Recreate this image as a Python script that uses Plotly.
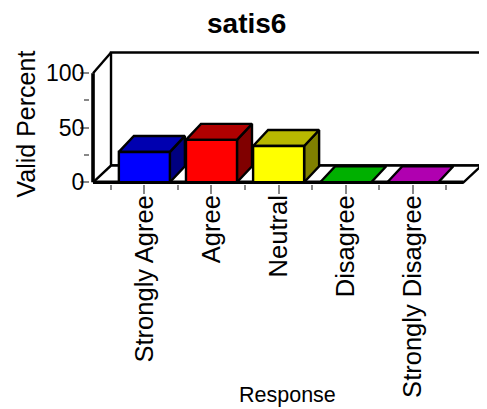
import plotly.graph_objects as go

# ---- data ----
categories = ["Strongly Agree", "Agree", "Neutral", "Disagree", "Strongly Disagree"]
values = [27.8, 38.9, 33.3, 0, 0]
front_colors = ["#0000FF", "#FF0000", "#FFFF00", "#00FF00", "#FF00FF"]
top_colors = ["#0000B0", "#B00000", "#B8B800", "#00B000", "#B000B0"]
side_colors = ["#000080", "#800000", "#808000", "#008000", "#800080"]
y_ticks = [0, 50, 100]
y_minor = [25, 75]

# ---- layout geometry (page has an 8px body margin) ----
OFF = 8
W, H = 487 - OFF, 409 - OFF
ML, MR, MT, MB = 90 - OFF, 3, 50 - OFF, 225
XR = [-0.81, 5.06]
YR = [-1.6, 121.3]
PW, PH = W - ML - MR, H - MT - MB
KX = PW / (XR[1] - XR[0])   # px per category unit
KY = PH / (YR[1] - YR[0])   # px per percent unit

DX, DY = 18 / KX, 16.7 / KY       # floor depth
BDX, BDY = 15 / KX, 16 / KY       # bar depth
HW = 0.38                         # half bar width
PAD = 0.265
X0 = -0.5 - PAD
X1 = len(categories) - 0.5 + PAD - 0.01
WALL_TOP = 119

FONT = "Liberation Sans, Arial, sans-serif"
fig = go.Figure()

def poly(xs, ys, fill, lw=2.4, color="black"):
    fig.add_trace(go.Scatter(
        x=list(xs) + [xs[0]], y=list(ys) + [ys[0]], mode="lines",
        fill="toself" if fill else None, fillcolor=fill,
        line=dict(color=color, width=lw), hoverinfo="skip", showlegend=False))

def line(xs, ys, lw):
    fig.add_trace(go.Scatter(x=xs, y=ys, mode="lines",
                             line=dict(color="black", width=lw),
                             hoverinfo="skip", showlegend=False))

# back wall
poly([X0 + DX, X1 + DX, X1 + DX, X0 + DX], [DY, DY, WALL_TOP, WALL_TOP], "white", 2.4)
# floor
poly([X0, X1, X1 + DX, X0 + DX], [0, 0, DY, DY], "white", 2.4)
# front axis lines
line([X0, X1], [0, 0], 3.6)
line([X0, X0], [0, y_ticks[-1]], 3.6)
line([X0, X0 + DX], [y_ticks[-1], WALL_TOP], 2.4)

# bars
for i, v in enumerate(values):
    c = i
    if v > 0:
        poly([c + HW, c + HW + BDX, c + HW + BDX, c + HW], [0, BDY, v + BDY, v], side_colors[i])
        poly([c - HW, c + HW, c + HW + BDX, c - HW + BDX], [v, v, v + BDY, v + BDY], top_colors[i])
        poly([c - HW, c + HW, c + HW, c - HW], [0, 0, v, v], front_colors[i])
    else:
        poly([c - HW, c + HW, c + HW + BDX, c - HW + BDX], [0, 0, BDY, BDY], top_colors[i])

fig.update_layout(
    width=W, height=H,
    margin=dict(l=ML, r=MR, t=MT, b=MB, pad=0, autoexpand=False),
    paper_bgcolor="white", plot_bgcolor="white",
    font=dict(family=FONT, color="black"),
    xaxis=dict(range=XR, showgrid=False, zeroline=False, showline=False, automargin=False,
               tickmode="array", tickvals=list(range(len(categories))), ticktext=categories,
               tickangle=-90, ticks="outside", ticklen=9, tickwidth=1.5, tickcolor="#888888",
               ticklabelstandoff=-9,
               tickfont=dict(size=25.5, family=FONT),
               minor=dict(tickmode="array", tickvals=[i - 0.5 for i in range(len(categories) + 1)],
                          ticks="outside", ticklen=5, tickwidth=1.5, tickcolor="#888888")),
    yaxis=dict(range=YR, showgrid=False, zeroline=False, showline=False, automargin=False,
               tickmode="array", tickvals=y_ticks, ticks="outside", ticklen=9, tickwidth=1.5,
               ticklabelstandoff=-9,
               tickcolor="#888888", tickfont=dict(size=23, family=FONT),
               minor=dict(tickmode="array", tickvals=y_minor, ticks="outside", ticklen=5,
                          tickwidth=1.5, tickcolor="#888888")),
)

def px2paper(px, py):
    # px, py are page pixel positions
    fx, fy = px - OFF, py - OFF
    return (fx - ML) / PW, (H - MB - fy) / PH

ax, ay = px2paper(25, 124.5)
fig.add_annotation(text="Valid Percent", x=ax, y=ay, xref="paper", yref="paper",
                   textangle=-90, showarrow=False, font=dict(size=25, family=FONT),
                   xanchor="center", yanchor="middle")
ax, ay = px2paper(287, 395.4)
fig.add_annotation(text="Response", x=ax, y=ay, xref="paper", yref="paper",
                   showarrow=False, font=dict(size=21.5, family=FONT),
                   xanchor="center", yanchor="middle")
ax, ay = px2paper(246.5, 23.5)
fig.add_annotation(text="<b>satis6</b>", x=ax, y=ay, xref="paper", yref="paper",
                   showarrow=False, font=dict(size=28, family=FONT),
                   xanchor="center", yanchor="middle")

fig.write_html("out.html")
